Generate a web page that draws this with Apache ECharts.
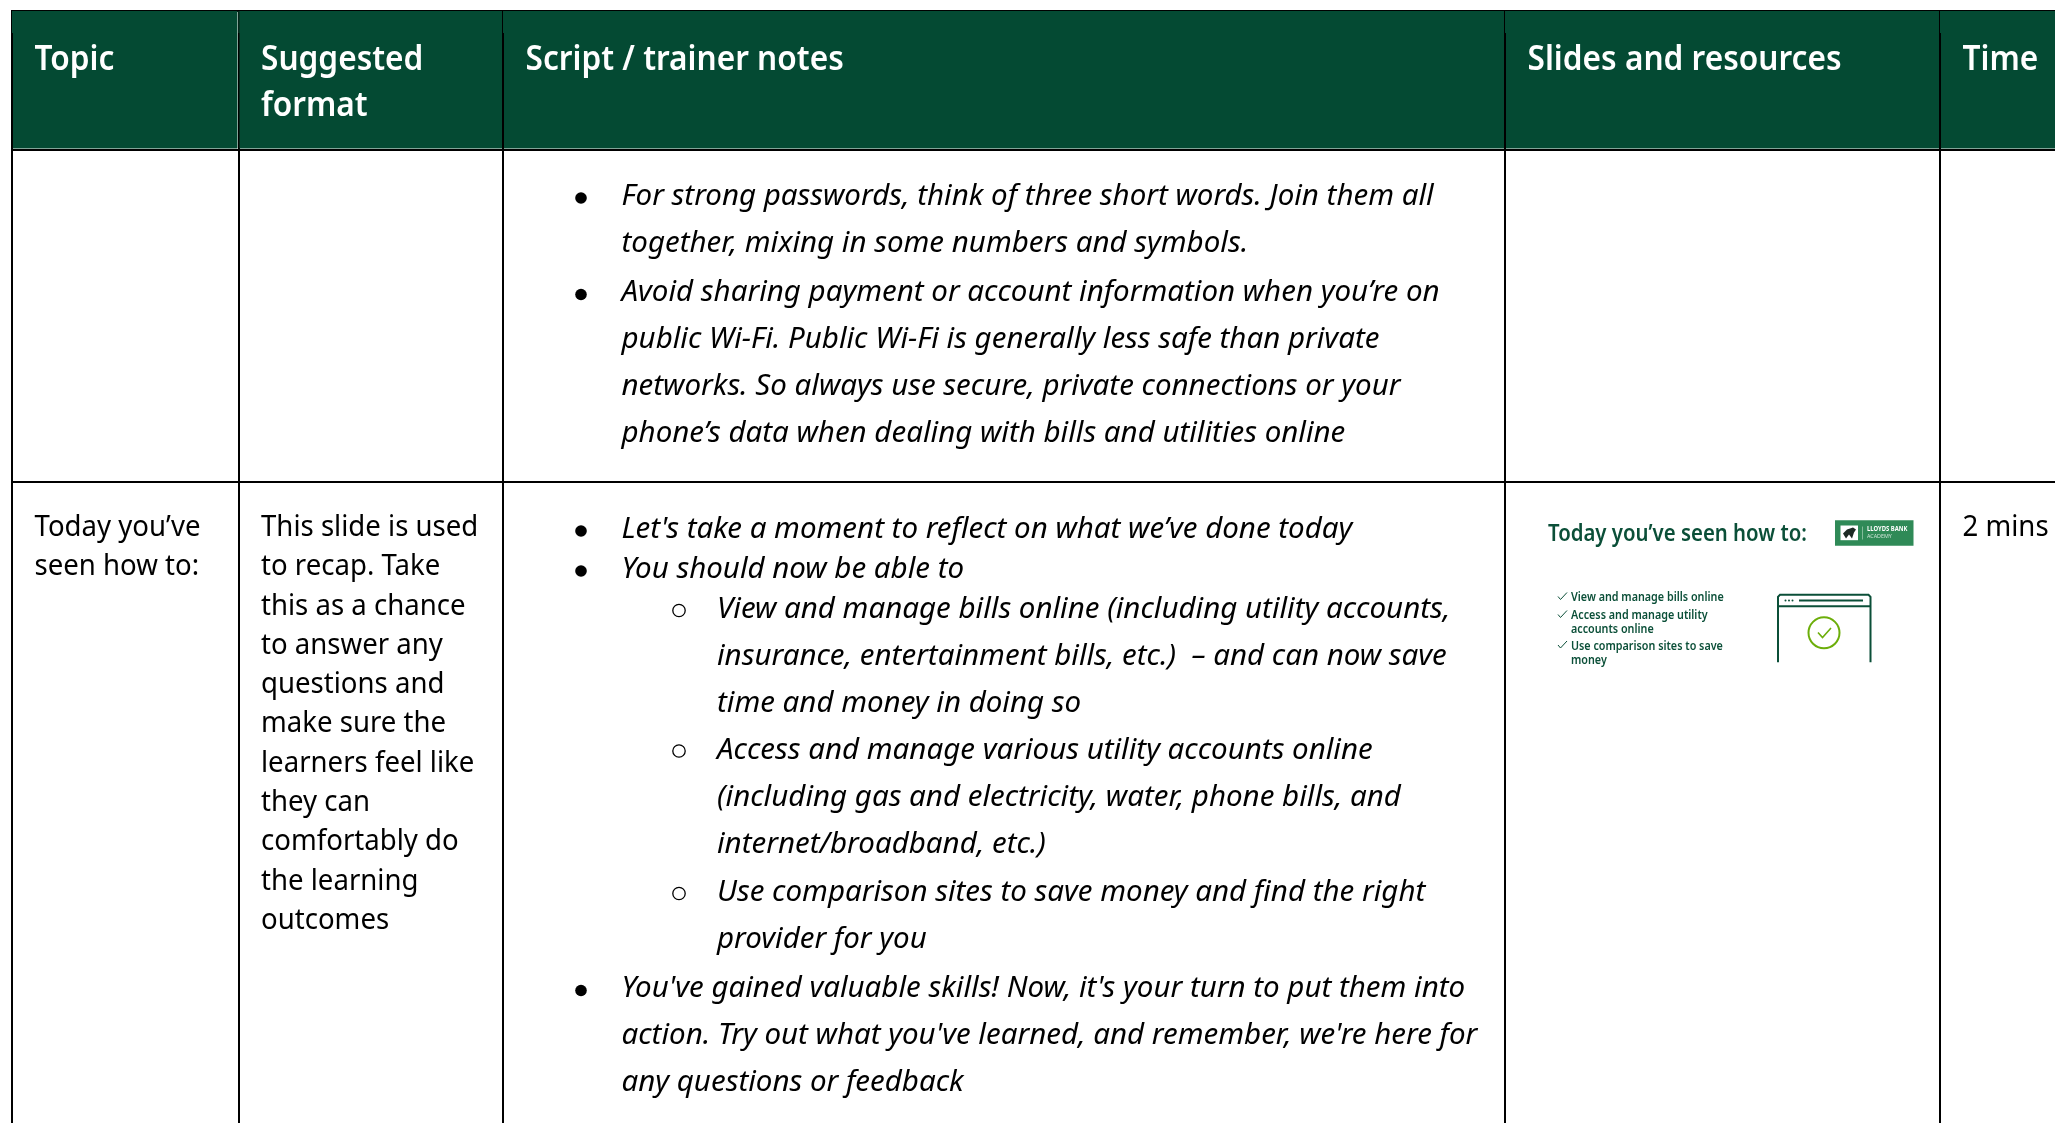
<!DOCTYPE html>
<html>
<head>
<meta charset="utf-8">
<style>
  html, body { margin: 0; padding: 0; background: #fff; overflow: hidden; }
  #main { width: 2055px; height: 1123px; }
</style>
<script src="https://cdn.jsdelivr.net/npm/echarts@6/dist/echarts.min.js"></script>
</head>
<body>
<div id="main"></div>
<script>
// table text
const headerLabels = ['Topic', 'Suggested\nformat', 'Script / trainer notes', 'Slides and resources', 'Time']
const topicLines = ['Today you’ve', 'seen how to:']
const formatLines = ['This slide is used', 'to recap. Take', 'this as a chance', 'to answer any', 'questions and',
  'make sure the', 'learners feel like', 'they can', 'comfortably do', 'the learning', 'outcomes']
const timeLines = ['2 mins']
const notesTopLines = [
  'For strong passwords, think of three short words. Join them all',
  'together, mixing in some numbers and symbols.',
  'Avoid sharing payment or account information when you’re on',
  'public Wi-Fi. Public Wi-Fi is generally less safe than private',
  'networks. So always use secure, private connections or your',
  'phone’s data when dealing with bills and utilities online'
]
const notesTopMarks = ['dot', '', 'dot', '', '', '']
const notesLowerLines = [
  "Let's take a moment to reflect on what we’ve done today",
  'You should now be able to',
  'View and manage bills online (including utility accounts,',
  'insurance, entertainment bills, etc.)  – and can now save',
  'time and money in doing so',
  'Access and manage various utility accounts online',
  '(including gas and electricity, water, phone bills, and',
  'internet/broadband, etc.)',
  'Use comparison sites to save money and find the right',
  'provider for you',
  "You've gained valuable skills! Now, it's your turn to put them into",
  "action. Try out what you've learned, and remember, we're here for",
  'any questions or feedback'
]
const notesLowerMarks = ['dot', 'dot', 'ring', '', '', 'ring', '', '', 'ring', '', 'dot', '', '']
const notesLowerLevels = [0, 0, 1, 1, 1, 1, 1, 1, 1, 1, 0, 0, 0]
const slideTitle = 'Today you’ve seen how to:'
const slideItems = ['View and manage bills online', 'Access and manage utility', 'accounts online', 'Use comparison sites to save', 'money']
const slideTicks = [1, 1, 0, 1, 0]

// layout, px
const columnSizes = [226.5, 264.5, 1002, 435, 160]
const rowSizes = [138.5, 332, 720]
const notesTopOffsets = [47, 94, 143.5, 190.5, 237, 284.5]
const notesLowerOffsets = [48, 88, 128.5, 175.5, 222.5, 269, 316, 363.5, 411.5, 458.5, 507.5, 554.5, 601.5]
const slideItemOffsets = [116, 134, 147.5, 164.5, 178.5]

const GREEN = '#044a33'
const FONT = '"Noto Sans"'
const BODY_SIZE = 29.5
const UPRIGHT_SCALE = 0.935
const ITALIC_SCALE = 1

function line(x, y, text, opt) {
  opt = opt || {}
  return {
    type: 'text',
    x: x, y: y,
    scaleX: opt.scale || UPRIGHT_SCALE,
    style: {
      text: text,
      fill: opt.fill || '#000',
      font: (opt.italic ? 'italic ' : '') + (opt.weight || 400) + ' ' + (opt.size || BODY_SIZE) + 'px ' + FONT,
      textAlign: 'left',
      textVerticalAlign: 'middle'
    }
  }
}

function notesLines(rect, lines, marks, offsets, levels) {
  let out = []
  lines.forEach((t, i) => {
    let lv = levels ? levels[i] : 0
    let y = rect.y + offsets[i]
    out.push(line(rect.x + (lv ? 214 : 118.5), y, t, { italic: true, scale: ITALIC_SCALE }))
    if (marks[i] === 'dot') {
      out.push({ type: 'circle', shape: { cx: rect.x + 78, cy: y + 1.5, r: 5.8 }, style: { fill: '#000' } })
    } else if (marks[i] === 'ring') {
      out.push({ type: 'circle', shape: { cx: rect.x + 176, cy: y + 0.5, r: 6.2 }, style: { fill: 'none', stroke: '#000', lineWidth: 1.3 } })
    }
  })
  return out
}

function slidePreview(rect) {
  let x0 = rect.x, y0 = rect.y, dark = '#0b4f38', out = []
  out.push(line(x0 + 43, y0 + 52.5, slideTitle, { size: 23, weight: 600, fill: dark, scale: 0.885 }))
  // logo
  out.push({ type: 'rect', shape: { x: x0 + 330, y: y0 + 38.7, width: 78.5, height: 25.6 }, style: { fill: '#2f8a57' } })
  out.push({ type: 'rect', shape: { x: x0 + 335.5, y: y0 + 44, width: 17.5, height: 14.7 }, style: { fill: '#fff' } })
  out.push({ type: 'polygon', shape: { points: [[x0 + 338, y0 + 52], [x0 + 342, y0 + 48], [x0 + 348, y0 + 46], [x0 + 351, y0 + 48], [x0 + 349, y0 + 51], [x0 + 347, y0 + 57], [x0 + 344, y0 + 53], [x0 + 341, y0 + 57]] }, style: { fill: '#1c2a24' } })
  out.push({ type: 'line', shape: { x1: x0 + 357.5, y1: y0 + 45, x2: x0 + 357.5, y2: y0 + 58 }, style: { stroke: '#a8d0b8', lineWidth: 0.7 } })
  out.push(line(x0 + 362, y0 + 48, 'LLOYDS BANK', { size: 6.2, weight: 700, fill: '#fff', scale: 0.95 }))
  out.push(line(x0 + 362, y0 + 54.7, 'ACADEMY', { size: 5.6, fill: '#cfe5d8', scale: 0.95 }))
  // list
  slideItems.forEach((t, i) => {
    let y = y0 + slideItemOffsets[i]
    out.push(line(x0 + 66, y, t, { size: 12.3, weight: 600, fill: dark, scale: 0.875 }))
    if (slideTicks[i]) {
      out.push({ type: 'polyline', shape: { points: [[x0 + 53, y - 1], [x0 + 55.5, y + 2], [x0 + 62, y - 5]] }, style: { fill: 'none', stroke: dark, lineWidth: 1 } })
    }
  })
  // browser icon
  let wx = x0 + 273, wy = y0 + 113.3, iconLine = { fill: 'none', stroke: dark, lineWidth: 2 }
  out.push({ type: 'polyline', shape: { points: [[wx, wy + 67.5], [wx, wy + 2], [wx + 2, wy], [wx + 90.5, wy], [wx + 92.5, wy + 2], [wx + 92.5, wy + 67.5]] }, style: iconLine })
  out.push({ type: 'line', shape: { x1: wx, y1: wy + 11.5, x2: wx + 92.5, y2: wy + 11.5 }, style: iconLine })
  out.push({ type: 'line', shape: { x1: wx + 21, y1: wy + 5.7, x2: wx + 85, y2: wy + 5.7 }, style: iconLine })
  ;[7.5, 11, 14.5].forEach(d => {
    out.push({ type: 'circle', shape: { cx: wx + d, cy: wy + 5.7, r: 1 }, style: { fill: dark } })
  })
  out.push({ type: 'circle', shape: { cx: x0 + 319, cy: y0 + 151.3, r: 15.5 }, style: { fill: 'none', stroke: '#6cae0a', lineWidth: 2 } })
  out.push({ type: 'polyline', shape: { points: [[x0 + 313, y0 + 151], [x0 + 317.5, y0 + 156], [x0 + 326, y0 + 146.5]] }, style: { fill: 'none', stroke: '#6cae0a', lineWidth: 1.6 } })
  return out
}

// one datum per filled cell: [column, row]
const cellData = [[0, 0], [1, 0], [2, 0], [3, 0], [4, 0], [2, 1], [0, 2], [1, 2], [2, 2], [3, 2], [4, 2]]

function renderCell(params, api) {
  let col = api.value(0), row = api.value(1)
  let rect = api.layout([col, row]).rect
  let children = []
  if (row === 0) {
    children.push({ type: 'rect', shape: { x: rect.x + 1, y: rect.y, width: rect.width - 2, height: rect.height - 1 }, style: { fill: GREEN } })
    // the rule is thinner at the top of the header
    children.push({ type: 'rect', shape: { x: rect.x, y: rect.y, width: 1, height: 22 }, style: { fill: GREEN } })
    headerLabels[col].split('\n').forEach((t, i) => {
      children.push(line(rect.x + 22.5, rect.y + 49.5 + i * 46, t, { size: 34, weight: 600, fill: '#fff', scale: 0.93 }))
    })
  } else if (row === 1) {
    children = notesLines(rect, notesTopLines, notesTopMarks, notesTopOffsets)
  } else if (col === 2) {
    children = notesLines(rect, notesLowerLines, notesLowerMarks, notesLowerOffsets, notesLowerLevels)
  } else if (col === 3) {
    children = slidePreview(rect)
  } else {
    let lines = col === 0 ? topicLines : col === 1 ? formatLines : timeLines
    lines.forEach((t, i) => {
      children.push(line(rect.x + 22.5, rect.y + 46 + i * 39.3, t))
    })
  }
  return { type: 'group', children: children }
}

const chart = echarts.init(document.getElementById('main'), null, { renderer: 'canvas' })
chart.setOption({
  animation: false,
  backgroundColor: '#fff',
  matrix: {
    left: 12,
    top: 11,
    width: columnSizes.reduce((a, b) => a + b, 0),
    height: rowSizes.reduce((a, b) => a + b, 0),
    x: { show: false, data: headerLabels.map((v, i) => ({ value: 'c' + i, size: columnSizes[i] })) },
    y: { show: false, data: rowSizes.map((s, i) => ({ value: 'r' + i, size: s })) },
    body: { itemStyle: { borderColor: '#000', borderWidth: 2 } },
    backgroundStyle: { borderColor: '#000', borderWidth: 2 }
  },
  series: [{
    type: 'custom',
    coordinateSystem: 'matrix',
    clip: false,
    silent: true,
    z: 1,
    data: cellData,
    renderItem: renderCell
  }]
})
</script>
</body>
</html>
